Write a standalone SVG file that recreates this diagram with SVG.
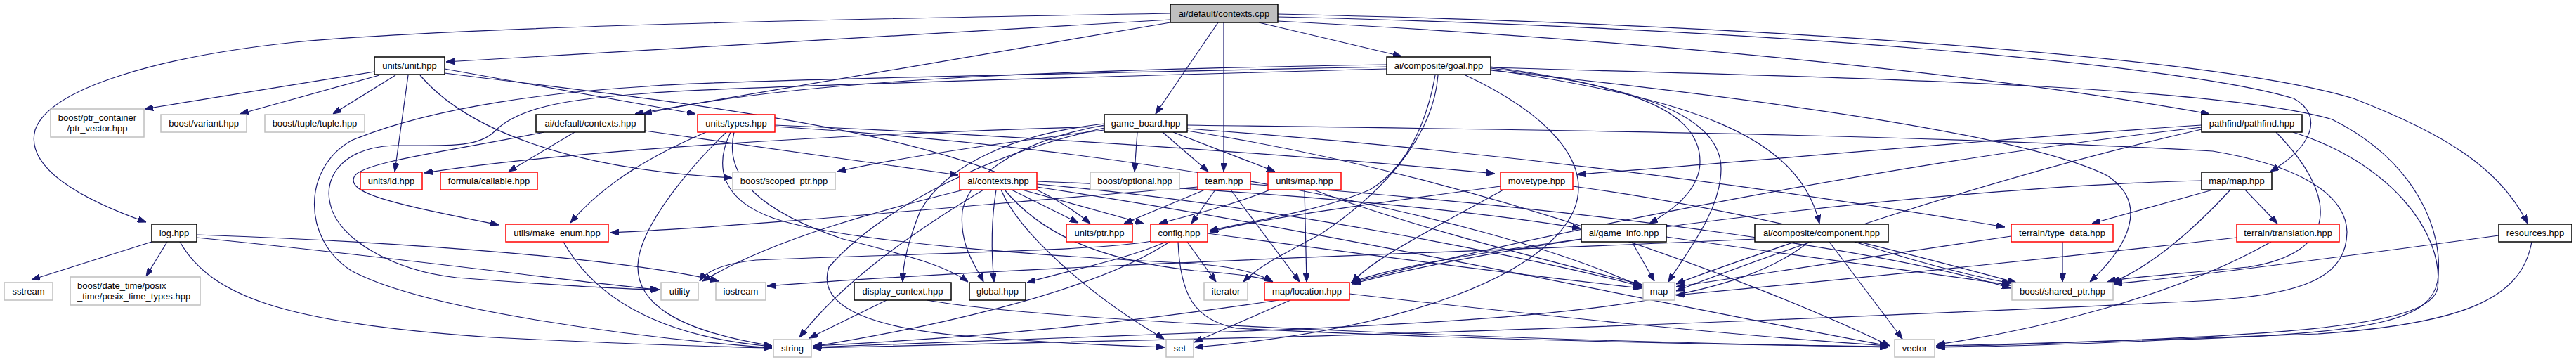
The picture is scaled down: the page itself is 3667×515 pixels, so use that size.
<svg xmlns="http://www.w3.org/2000/svg" width="3667" height="515" viewBox="0 0 3667 515">
<style>
rect{fill:#fff;stroke-width:1.5}
.k{stroke:#000}
.g{stroke:#bfbfbf}
.r{stroke:#ff0000}
.cpp{fill:#bfbfbf;stroke:#000}
text{font-family:"Liberation Sans",Arial,sans-serif;font-size:13px;fill:#000;text-anchor:middle}
.l{text-anchor:start}
#edges path{fill:none;stroke:#191970;stroke-width:1.2;marker-end:url(#ah)}
</style>
<defs>
<marker id="ah" markerUnits="userSpaceOnUse" markerWidth="12" markerHeight="9" refX="12" refY="4.5" orient="auto">
<path d="M0,0 L12,4.5 L0,9 z" fill="#191970" stroke="#191970" stroke-width="1"/>
</marker>
</defs>
<rect x="0" y="0" width="3667" height="515" style="fill:#fff;stroke:none"/>
<g id="edges">
<path d="M1666,32 L904,162"/>
<path d="M1666,28 C1300,48 950,70 635,88"/>
<path d="M1666,19 C1200,27 650,38 420,60 C230,80 70,125 50,185 C35,240 120,285 208,316"/>
<path d="M1734,32 L1645,162"/>
<path d="M1742,32 L1742,244"/>
<path d="M1792,32 L1995,80"/>
<path d="M1819,30 C2300,55 2800,100 3145,162"/>
<path d="M1819,20 C2500,35 3150,80 3350,140 C3480,190 3560,240 3598,318"/>
<path d="M1819,24 C2500,40 3100,90 3265,140 C3310,165 3290,210 3232,244"/>
<path d="M533,102 L206,155"/>
<path d="M540,107 L342,162"/>
<path d="M563,107 L474,162"/>
<path d="M581,107 L562,244"/>
<path d="M598,107 C660,180 800,240 1042,253"/>
<path d="M633,98 L990,162"/>
<path d="M633,104 C1000,150 1400,190 1552,318"/>
<path d="M1974,92 C1600,98 1150,108 916,162"/>
<path d="M1974,95 C1500,105 1000,115 920,123 C800,130 620,150 500,200 C430,240 430,340 500,385 C600,440 900,480 1099,495"/>
<path d="M1974,98 C1600,108 1000,125 920,133 C820,140 740,150 704,187 C680,210 640,207 560,207 C490,210 460,250 470,290 C480,340 560,385 650,395 C780,405 880,412 939,412"/>
<path d="M2043,107 C2030,180 2000,240 1950,270 C1880,300 1780,315 1722,328"/>
<path d="M2047,107 C2040,200 1960,280 1880,333 C1820,365 1790,380 1770,401"/>
<path d="M2084,106 C2200,160 2270,230 2240,300 C2200,390 2000,470 1701,494"/>
<path d="M2122,95 C2300,120 2420,150 2420,230 C2420,270 2380,300 2348,318"/>
<path d="M2122,97 C2350,125 2450,170 2450,240 C2450,300 2400,360 2375,401"/>
<path d="M2122,99 C2400,140 2560,190 2590,318"/>
<path d="M2122,100 C2600,150 2900,200 3000,250 C3060,290 3030,350 2975,401"/>
<path d="M2122,96 C2600,110 3150,120 3320,170 C3440,230 3480,330 3470,400 C3460,450 3400,475 3100,483 C2950,490 2850,493 2756,494"/>
<path d="M818,188 L724,244"/>
<path d="M918,186 L1364,249"/>
<path d="M775,188 C640,215 520,230 505,250 C490,275 560,290 710,320"/>
<path d="M1005,188 C930,220 860,260 812,317"/>
<path d="M1034,188 C990,230 910,320 908,377 C906,430 960,470 1099,492"/>
<path d="M1040,188 C1015,240 1030,285 1100,310 C1200,345 1500,365 1700,375 C1760,380 1790,388 1812,401"/>
<path d="M1045,188 C1030,250 1080,300 1200,340 C1300,365 1350,380 1378,401"/>
<path d="M1103,178 C1500,195 1900,225 2128,247"/>
<path d="M1103,180 C1600,210 2100,300 2337,408"/>
<path d="M1619,188 L1615,244"/>
<path d="M1655,188 L1720,244"/>
<path d="M1670,188 L1815,244"/>
<path d="M1572,185 C1450,200 1300,220 1192,244"/>
<path d="M1572,180 C1200,190 800,215 604,246"/>
<path d="M1572,176 C1450,190 1350,230 1310,300 C1290,350 1285,380 1285,401"/>
<path d="M1572,178 C1450,200 1380,250 1370,300 C1365,350 1390,380 1400,401"/>
<path d="M1572,182 C1400,220 1250,300 1180,380 C1160,440 1250,470 1400,480 C1500,488 1600,492 1658,494"/>
<path d="M1690,178 C2200,185 2700,190 3150,215 C3300,240 3340,290 3341,330 C3340,390 3290,420 3132,428 C2900,440 2200,470 1800,480 C1500,487 1300,493 1157,495"/>
<path d="M1690,183 C2200,220 2600,280 2854,323"/>
<path d="M1690,186 C2100,250 2500,400 2690,492"/>
<path d="M1372,270 C1250,300 1100,340 1000,400"/>
<path d="M1400,270 C1300,330 1200,400 1138,480"/>
<path d="M1418,270 C1410,320 1412,370 1415,401"/>
<path d="M1440,270 L1535,317"/>
<path d="M1455,270 L1628,318"/>
<path d="M1425,270 C1450,330 1550,420 1657,482"/>
<path d="M1430,270 C1480,330 1560,370 1700,385 C1770,390 1800,395 1811,401"/>
<path d="M1476,262 C1800,290 2200,370 2338,408"/>
<path d="M1476,266 C1900,330 2400,440 2688,492"/>
<path d="M1476,258 C1800,270 2100,300 2250,325"/>
<path d="M1705,266 C1400,290 1100,320 869,331"/>
<path d="M1715,270 L1600,318"/>
<path d="M1730,270 L1696,318"/>
<path d="M1752,270 L1850,401"/>
<path d="M1780,262 C2300,300 2700,360 2862,410"/>
<path d="M1857,270 L1860,401"/>
<path d="M1808,270 C1760,290 1700,305 1650,318"/>
<path d="M1870,270 C2000,320 2200,370 2337,405"/>
<path d="M2136,265 C1950,290 1800,310 1722,330"/>
<path d="M2140,270 C2050,320 1950,370 1925,402"/>
<path d="M2239,265 C2500,300 2750,370 2870,402"/>
<path d="M3134,178 C2800,200 2500,230 2245,248"/>
<path d="M3134,181 C2700,230 2200,330 1925,402"/>
<path d="M3134,184 C2800,260 2500,370 2386,414"/>
<path d="M3240,188 C3330,280 3330,360 3200,380 C3100,390 3020,395 3000,401"/>
<path d="M3264,188 C3400,230 3480,330 3470,410 C3460,460 3300,480 2756,492"/>
<path d="M3150,270 L2978,318"/>
<path d="M3196,270 L3242,318"/>
<path d="M3175,270 C3120,330 3060,380 3006,402"/>
<path d="M3134,257 C2800,265 2200,330 1925,404"/>
<path d="M2936,344 L2936,401"/>
<path d="M2863,336 C2700,360 2500,390 2386,408"/>
<path d="M3233,344 C3100,420 2900,470 2757,490"/>
<path d="M3184,338 C2900,370 2600,400 2386,420"/>
<path d="M3557,335 C3300,370 3100,395 3009,404"/>
<path d="M3604,344 C3590,420 3520,460 3300,475 C3000,485 2850,490 2757,494"/>
<path d="M2323,344 L2355,400"/>
<path d="M2251,340 C2100,360 1980,380 1923,402"/>
<path d="M2372,337 C2600,370 2800,395 2862,406"/>
<path d="M2555,344 C2480,370 2420,390 2386,404"/>
<path d="M2498,340 C2200,355 1500,375 1092,407"/>
<path d="M2575,344 C2480,420 2300,450 1800,470 C1500,480 1300,490 1157,494"/>
<path d="M2604,344 L2708,482"/>
<path d="M2640,344 C2750,380 2820,395 2862,403"/>
<path d="M1640,343 C1550,358 1311,360 1076,370 C1030,375 1005,385 996,400"/>
<path d="M1660,344 C1600,370 1520,385 1462,402"/>
<path d="M1665,344 C1550,420 1300,470 1157,493"/>
<path d="M1690,344 L1731,401"/>
<path d="M1677,344 C1680,420 1700,455 1760,467 C2000,480 2400,490 2688,493"/>
<path d="M1719,332 C2000,370 2200,395 2337,410"/>
<path d="M1820,427 C1600,460 1400,480 1158,492"/>
<path d="M1837,427 L1700,487"/>
<path d="M1921,418 C2200,450 2500,480 2688,492"/>
<path d="M1262,427 L1152,481"/>
<path d="M1320,427 C1500,460 2200,485 2688,494"/>
<path d="M216,344 L45,398"/>
<path d="M238,344 L208,393"/>
<path d="M256,344 C300,420 400,460 700,480 C900,490 1000,493 1099,495"/>
<path d="M280,334 C600,345 900,370 1023,400"/>
<path d="M280,338 C600,370 850,405 938,412"/>
<path d="M802,344 C850,430 950,480 1099,493"/>
</g>
<g id="n_cpp"><rect class="cpp" x="1666" y="6" width="153" height="26"/><text x="1742.5" y="23.5">ai/default/contexts.cpp</text></g>
<g id="n_unit"><rect class="k" x="533" y="81" width="100" height="25"/><text x="583" y="98">units/unit.hpp</text></g>
<g id="n_goal"><rect class="k" x="1974" y="81" width="148" height="25"/><text x="2048" y="98">ai/composite/goal.hpp</text></g>
<g id="n_dctx"><rect class="k" x="763" y="163" width="155" height="25"/><text x="840.5" y="180">ai/default/contexts.hpp</text></g>
<g id="n_types"><rect class="r" x="993" y="163" width="110" height="25"/><text x="1048" y="180">units/types.hpp</text></g>
<g id="n_gb"><rect class="k" x="1572" y="163" width="118" height="25"/><text x="1631" y="180">game_board.hpp</text></g>
<g id="n_pf"><rect class="k" x="3134" y="163" width="143" height="25"/><text x="3205.5" y="180">pathfind/pathfind.hpp</text></g>
<g id="n_ptrvec"><rect class="g" x="72" y="155" width="133" height="40"/><text x="138.5" y="171.5">boost/ptr_container</text><text x="138.5" y="186.5">/ptr_vector.hpp</text></g>
<g id="n_variant"><rect class="g" x="229" y="163" width="122" height="25"/><text x="290" y="180">boost/variant.hpp</text></g>
<g id="n_tuple"><rect class="g" x="377" y="163" width="142" height="25"/><text x="448" y="180">boost/tuple/tuple.hpp</text></g>
<g id="n_id"><rect class="r" x="513" y="245" width="88" height="25"/><text x="557" y="262">units/id.hpp</text></g>
<g id="n_callable"><rect class="r" x="627" y="245" width="138" height="25"/><text x="696" y="262">formula/callable.hpp</text></g>
<g id="n_scoped"><rect class="g" x="1043" y="245" width="146" height="25"/><text x="1116" y="262">boost/scoped_ptr.hpp</text></g>
<g id="n_actx"><rect class="r" x="1366" y="245" width="110" height="25"/><text x="1421" y="262">ai/contexts.hpp</text></g>
<g id="n_optional"><rect class="g" x="1552" y="245" width="127" height="25"/><text x="1615.5" y="262">boost/optional.hpp</text></g>
<g id="n_team"><rect class="r" x="1705" y="245" width="75" height="25"/><text x="1742.5" y="262">team.hpp</text></g>
<g id="n_umap"><rect class="r" x="1805" y="245" width="104" height="25"/><text x="1857" y="262">units/map.hpp</text></g>
<g id="n_movetype"><rect class="r" x="2136" y="245" width="103" height="25"/><text x="2187.5" y="262">movetype.hpp</text></g>
<g id="n_mapmap"><rect class="k" x="3134" y="245" width="100" height="25"/><text x="3184" y="262">map/map.hpp</text></g>
<g id="n_log"><rect class="k" x="216" y="319" width="64" height="25"/><text x="248" y="336">log.hpp</text></g>
<g id="n_makeenum"><rect class="r" x="720" y="319" width="146" height="25"/><text x="793" y="336">utils/make_enum.hpp</text></g>
<g id="n_uptr"><rect class="r" x="1518" y="319" width="94" height="25"/><text x="1565" y="336">units/ptr.hpp</text></g>
<g id="n_config"><rect class="r" x="1638" y="319" width="81" height="25"/><text x="1678.5" y="336">config.hpp</text></g>
<g id="n_gameinfo"><rect class="k" x="2251" y="319" width="121" height="25"/><text x="2311.5" y="336">ai/game_info.hpp</text></g>
<g id="n_component"><rect class="k" x="2498" y="319" width="190" height="25"/><text x="2593" y="336">ai/composite/component.hpp</text></g>
<g id="n_typedata"><rect class="r" x="2863" y="319" width="145" height="25"/><text x="2935.5" y="336">terrain/type_data.hpp</text></g>
<g id="n_translation"><rect class="r" x="3184" y="319" width="146" height="25"/><text x="3257" y="336">terrain/translation.hpp</text></g>
<g id="n_resources"><rect class="k" x="3557" y="319" width="104" height="25"/><text x="3609" y="336">resources.hpp</text></g>
<g id="n_sstream"><rect class="g" x="6" y="402" width="69" height="25"/><text x="40.5" y="419">sstream</text></g>
<g id="n_datetime"><rect class="g" x="100" y="394" width="185" height="40"/><text class="l" x="110" y="410.5">boost/date_time/posix</text><text class="l" x="110" y="425.5">_time/posix_time_types.hpp</text></g>
<g id="n_utility"><rect class="g" x="941" y="402" width="53" height="25"/><text x="967.5" y="419">utility</text></g>
<g id="n_iostream"><rect class="g" x="1019" y="402" width="71" height="25"/><text x="1054.5" y="419">iostream</text></g>
<g id="n_dispctx"><rect class="k" x="1216" y="402" width="138" height="25"/><text x="1285" y="419">display_context.hpp</text></g>
<g id="n_global"><rect class="k" x="1380" y="402" width="80" height="25"/><text x="1420" y="419">global.hpp</text></g>
<g id="n_iterator"><rect class="g" x="1714" y="402" width="62" height="25"/><text x="1745" y="419">iterator</text></g>
<g id="n_location"><rect class="r" x="1800" y="402" width="121" height="25"/><text x="1860.5" y="419">map/location.hpp</text></g>
<g id="n_map"><rect class="g" x="2339" y="402" width="45" height="25"/><text x="2361.5" y="419">map</text></g>
<g id="n_sharedptr"><rect class="g" x="2864" y="402" width="144" height="25"/><text x="2936" y="419">boost/shared_ptr.hpp</text></g>
<g id="n_string"><rect class="g" x="1101" y="483" width="54" height="25"/><text x="1128" y="500">string</text></g>
<g id="n_set"><rect class="g" x="1660" y="483" width="39" height="25"/><text x="1679.5" y="500">set</text></g>
<g id="n_vector"><rect class="g" x="2697" y="483" width="57" height="25"/><text x="2725.5" y="500">vector</text></g>
</svg>
